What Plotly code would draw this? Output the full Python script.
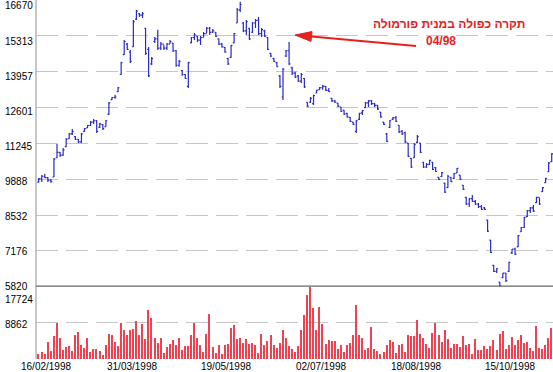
import plotly.graph_objects as go

# ---------------- data ----------------
price_high = [
    9930, 10050, 10090, 9970, 9900, 10690, 11220, 10920, 11070, 11450,
    11640, 11790, 11520, 11410, 11640, 11830, 11940, 12090, 12170, 12130,
    12020, 11980, 12130, 12810, 13000, 13080, 13380, 14330, 15160, 15040,
    14780, 15910, 16290, 16180, 16220, 15610, 14890, 14510, 15270, 15540,
    15080, 14970, 15040, 15160, 15040, 14780, 14400, 14020, 13870, 14330,
    15270, 15420, 15310, 15310, 15460, 15650, 15650, 15570, 15460, 15200,
    15040, 14890, 14480, 14970, 15420, 16370, 16600,
    15840, 15910, 15610, 15840, 15950, 16030, 15610, 15540, 15270, 14670,
    14480, 14330, 13830, 14100, 14780, 15080, 14140, 13950, 13830, 13910,
    13720, 12810, 13000, 13080, 13270, 13380, 13450, 13420, 13340, 12960,
    12890, 12770, 12620, 12510, 12400, 12240, 12050, 12130, 12400, 12510,
    12810, 12890, 12890, 12770, 12700, 12430, 12050, 11640, 12130, 12240,
    12280, 11940, 11750, 11680, 11260, 10690, 11260, 11560, 11260, 10540,
    10500, 10620, 10540, 10350, 9970, 10160, 9750, 10050, 9970, 10120,
    10310, 10050, 9670, 9220, 9180, 9290, 9100, 8990, 8910, 8840,
    8350, 7590, 6640, 6530, 6000, 6340, 6340, 6760, 7250, 7290,
    7780, 8080, 8460, 8720, 8840, 8910, 9220, 9180, 9590, 9930,
    10540, 10880,
]
price_low = [
    9750, 9780, 9930, 9780, 9750, 9970, 10690, 10730, 10770, 11110,
    11410, 11560, 11370, 11260, 11260, 11680, 11830, 11900, 11980, 11640,
    11830, 11750, 11870, 12320, 12890, 12930, 13190, 13830, 14590, 14780,
    14290, 14890, 15910, 16030, 15990, 14590, 13760, 14210, 15040, 14780,
    14780, 14780, 14780, 15010, 14700, 14140, 14140, 13800, 13680, 13340,
    15040, 15160, 15080, 14970, 15270, 15420, 15350, 15420, 15270, 14970,
    14860, 14670, 14210, 14480, 15040, 15800, 16220,
    15460, 15350, 15160, 15420, 15610, 15350, 15270, 15270, 14780, 14510,
    14330, 14140, 13340, 12890, 14510, 14210, 13830, 13720, 13570, 13530,
    13340, 12620, 12770, 12700, 13150, 13270, 13270, 13230, 13190, 12810,
    12770, 12620, 12430, 12320, 12210, 12050, 11940, 11640, 12130, 12320,
    12580, 12620, 12700, 12620, 12510, 12210, 11940, 11300, 11830, 12130,
    12050, 11640, 11560, 11260, 10730, 10310, 10690, 11260, 10880, 10310,
    10310, 10430, 10240, 10160, 9860, 9970, 9370, 9560, 9780, 9900,
    10120, 9860, 9480, 8910, 8840, 9030, 8910, 8800, 8720, 8720,
    7890, 7100, 6380, 6340, 5830, 6150, 6000, 6380, 7060, 7020,
    7320, 7890, 8040, 8460, 8610, 8650, 8990, 8910, 9400, 9750,
    10160, 10540,
]
price_open = [
    9780, 9900, 10000, 9950, 9850, 9980, 10700, 10900, 10800, 11120,
    11420, 11600, 11500, 11400, 11300, 11700, 11830, 11920, 12050, 12100,
    11850, 11950, 11880, 12350, 12900, 12980, 13200, 13850, 14600, 15000,
    14700, 14900, 15950, 16150, 16100, 15600, 14800, 14250, 15100, 15200,
    14850, 15000, 14850, 15000, 15040, 14750, 14200, 14000, 13850, 13400,
    15050, 15250, 15300, 15150, 15250, 15400, 15600, 15450, 15450, 15200,
    15000, 14880, 14450, 14500, 15050, 15800, 16300,
    15800, 15500, 15600, 15450, 15800, 15900, 15400, 15500, 15250, 14650,
    14450, 14300, 13800, 13000, 14550, 14750, 14100, 13900, 13800, 13600,
    13700, 12800, 12800, 12750, 13150, 13280, 13350, 13400, 13250, 12950,
    12850, 12770, 12620, 12500, 12380, 12230, 12050, 11700, 12150, 12400,
    12600, 12780, 12850, 12750, 12680, 12430, 12050, 11600, 11850, 12150,
    12220, 11930, 11700, 11650, 11250, 10680, 10700, 11280, 11250, 10530,
    10350, 10450, 10530, 10330, 9960, 9990, 9740, 9570, 9960, 9920,
    10130, 10040, 9660, 9200, 8950, 9150, 9050, 8950, 8850, 8800,
    8340, 7580, 6630, 6400, 5990, 6160, 6330, 6400, 7100, 7240,
    7330, 7900, 8060, 8470, 8700, 8800, 9000, 9200, 9420, 9760,
    10170, 10550,
]
price_close = [
    9900, 10000, 9950, 9850, 9800, 10650, 10900, 10800, 11000, 11400,
    11600, 11700, 11400, 11300, 11600, 11800, 11920, 12050, 12100, 11700,
    11980, 11800, 12100, 12780, 12980, 13000, 13350, 14300, 15100, 14800,
    14350, 15850, 16250, 16100, 16150, 14650, 13800, 14450, 15200, 14850,
    15000, 14850, 15000, 15100, 14750, 14200, 14350, 13850, 13700, 14300,
    15250, 15350, 15150, 15250, 15400, 15600, 15450, 15500, 15300, 15000,
    14900, 14700, 14250, 14950, 15400, 16300, 16500,
    15500, 15850, 15200, 15800, 15900, 15400, 15550, 15300, 14800, 14550,
    14350, 14150, 13400, 14050, 14750, 14250, 13900, 13750, 13600, 13850,
    13380, 12650, 12950, 13050, 13250, 13350, 13400, 13250, 13200, 12850,
    12800, 12650, 12450, 12350, 12250, 12080, 11960, 12100, 12380, 12480,
    12780, 12850, 12750, 12680, 12550, 12250, 11960, 11320, 12100, 12220,
    12080, 11680, 11600, 11300, 10750, 10350, 11200, 11500, 10900, 10350,
    10450, 10600, 10260, 10180, 9880, 10140, 9400, 10000, 9800, 10100,
    10300, 9880, 9500, 8950, 9150, 9050, 8950, 8850, 8750, 8750,
    7920, 7120, 6400, 6500, 5850, 6330, 6050, 6740, 7240, 7050,
    7750, 8060, 8440, 8700, 8800, 8680, 9200, 8950, 9570, 9920,
    10500, 10850,
]
volume = [
    1380, 1790, 1380, 4230, 1950, 5620, 8950, 5210, 2200, 3010,
    3180, 1950, 6020, 6680, 3580, 2770, 5210, 1790, 2610, 2440,
    1950, 1140, 3420, 6270, 6020, 4230, 3180, 8870, 7250, 5860,
    7080, 7330, 9280, 5860, 8710, 5050, 12130, 10090, 5210, 4070,
    5210, 1550, 3010, 3830, 4640, 3420, 5210, 2360, 3180, 3180,
    6020, 8870, 5290, 3420, 1790, 6270, 11150, 3010, 1550, 3420,
    1380, 3580, 3830, 7650, 8300, 4880, 5290, 4070, 4880, 3830,
    4070, 3580, 1550, 6270, 3420, 4400, 5860, 3580, 2770, 4070,
    7250, 5290, 3180, 2610, 1790, 3180, 7080, 10750, 15790, 17660,
    12540, 7250, 12780, 8710, 3830, 4640, 4400, 4400, 2440, 3580,
    1790, 3580, 4070, 5860, 13350, 5860, 5210, 2360, 2770, 7900,
    2440, 2040, 1380, 1790, 3580, 4640, 4230, 1550, 3420, 3830,
    1790, 6020, 5620, 5620, 9520, 6270, 5290, 3830, 2770, 6430,
    8950, 5860, 4230, 7250, 4880, 2770, 3830, 3830, 3010, 5620,
    3580, 3830, 1380, 5050, 2200, 2360, 3180, 2610, 3180, 4640,
    2200, 6270, 6840, 2440, 3420, 5450, 3580, 4800, 5860, 3990,
    4230, 2850, 1950, 8140, 2770, 2440, 3420, 5210, 7650,
]
price_ticks = [16670, 15313, 13957, 12601, 11245, 9888, 8532, 7176, 5820]
volume_ticks = [17724, 8862]
date_labels = ["16/02/1998", "31/03/1998", "19/05/1998",
               "02/07/1998", "18/08/1998", "15/10/1998"]
date_label_bars = [0, 30, 61, 92, 123, 154]
note_line1 = "תקרה כפולה במנית פורמולה"
note_line2 = "04/98"

bars = list(range(len(volume)))

# ---------------- layout geometry ----------------
W, H = 553, 372
ML, MB = 36, 13
PW, PH = W - ML, H - MB
SPLIT = 286.7                      # pixel row of the 5820 line
split_frac = (PH - SPLIT) / PH

FONT = "Arial, 'Liberation Sans', sans-serif"
BLUE = "#2a2ac4"
RED = "#ee4252"
NOTE_RED = "#e3211f"
GRID = "#c6c6c6"


def px(x, y):
    """pixel (from figure top-left) -> paper coords"""
    return (x - ML) / PW, 1 - y / PH


fig = go.Figure()
fig.add_trace(go.Ohlc(
    x=bars, open=price_open, high=price_high, low=price_low, close=price_close,
    increasing=dict(line=dict(color=BLUE, width=1.2)),
    decreasing=dict(line=dict(color=BLUE, width=1.2)),
    tickwidth=0.45, xaxis="x", yaxis="y", showlegend=False, hoverinfo="skip",
))
fig.add_trace(go.Bar(
    x=bars, y=volume, width=0.48, marker=dict(color=RED, line=dict(width=0)),
    xaxis="x", yaxis="y2", showlegend=False, hoverinfo="skip",
))

fig.update_layout(
    width=W, height=H,
    margin=dict(l=ML, r=0, t=0, b=MB),
    paper_bgcolor="white", plot_bgcolor="white",
    bargap=0,
    xaxis=dict(range=[-0.88, len(bars) - 0.58], showgrid=False, zeroline=False,
               showticklabels=False, ticks="", showline=False,
               rangeslider=dict(visible=False), anchor="y2", fixedrange=True),
    yaxis=dict(domain=[split_frac, 1], range=[price_ticks[-1], price_ticks[0]],
               tickvals=price_ticks[1:-1], showticklabels=False, ticks="",
               showgrid=True, gridcolor=GRID, gridwidth=1, griddash="22px,8px",
               zeroline=False, showline=False, anchor="x", fixedrange=True),
    yaxis2=dict(domain=[0, split_frac], range=[0, volume_ticks[0]],
                tickvals=volume_ticks[1:], showticklabels=False, ticks="",
                showgrid=True, gridcolor=GRID, gridwidth=1, griddash="22px,8px",
                zeroline=False, showline=False, anchor="x", fixedrange=True),
)

shapes = []
# left axis line
shapes.append(dict(type="line", xref="paper", yref="paper", x0=0, x1=0, y0=0, y1=1,
                   line=dict(color="#b4b4b4", width=1.5)))
# separator line at the price baseline
shapes.append(dict(type="line", xref="paper", yref="y", x0=0, x1=1,
                   y0=price_ticks[-1], y1=price_ticks[-1],
                   line=dict(color="#666666", width=2.2)))
# red arrow (line + filled head)
tip = (295, 35)
tail = (416, 46)
base = (311.5, 36.5)
b1 = (311.0, 41.4)
b2 = (312.0, 31.6)
t0 = px(*tail)
t1 = px(*base)
shapes.append(dict(type="line", xref="paper", yref="paper", x0=t0[0], y0=t0[1],
                   x1=t1[0], y1=t1[1], line=dict(color=NOTE_RED, width=2)))
p_tip, p_b1, p_b2 = px(*tip), px(*b1), px(*b2)
shapes.append(dict(type="path", xref="paper", yref="paper",
                   path=f"M {p_tip[0]} {p_tip[1]} L {p_b1[0]} {p_b1[1]} L {p_b2[0]} {p_b2[1]} Z",
                   fillcolor=NOTE_RED, line=dict(color=NOTE_RED, width=1)))
fig.update_layout(shapes=shapes)

ann = []
# price axis labels (evenly spaced rows, left aligned)
for k, v in enumerate(price_ticks):
    _, yy = px(0, 6 + 35 * k)
    ann.append(dict(text=str(v), xref="paper", yref="paper", x=0, y=yy,
                    xanchor="left", yanchor="middle", xshift=-33, showarrow=False,
                    font=dict(family=FONT, size=10, color="#000")))
# volume axis labels
for v, row in zip(volume_ticks, [299.3, 324.3]):
    _, yy = px(0, row)
    ann.append(dict(text=str(v), xref="paper", yref="paper", x=0, y=yy,
                    xanchor="left", yanchor="middle", xshift=-33, showarrow=False,
                    font=dict(family=FONT, size=10, color="#000")))
# date labels
_, ylab = px(0, 366.7)
for i, (b, lab) in enumerate(zip(date_label_bars, date_labels)):
    ann.append(dict(text=lab, xref="x", yref="paper", x=b, y=ylab,
                    xanchor="center", yanchor="middle",
                    xshift=(7.6 if i == 0 else 1.3), showarrow=False,
                    font=dict(family=FONT, size=10, color="#000")))
# note text
n1 = px(449, 24)
n2 = px(441, 41)
ann.append(dict(text=f"<b>{note_line1}</b>", xref="paper", yref="paper", x=n1[0], y=n1[1],
                xanchor="center", yanchor="middle", showarrow=False,
                font=dict(family=FONT, size=12, color=NOTE_RED)))
ann.append(dict(text=f"<b>{note_line2}</b>", xref="paper", yref="paper", x=n2[0], y=n2[1],
                xanchor="center", yanchor="middle", showarrow=False,
                font=dict(family=FONT, size=12, color=NOTE_RED)))
fig.update_layout(annotations=ann)

fig.write_html("out.html", config={"displayModeBar": False},
               post_script="document.body.style.margin='0';document.body.style.overflow='hidden';")
